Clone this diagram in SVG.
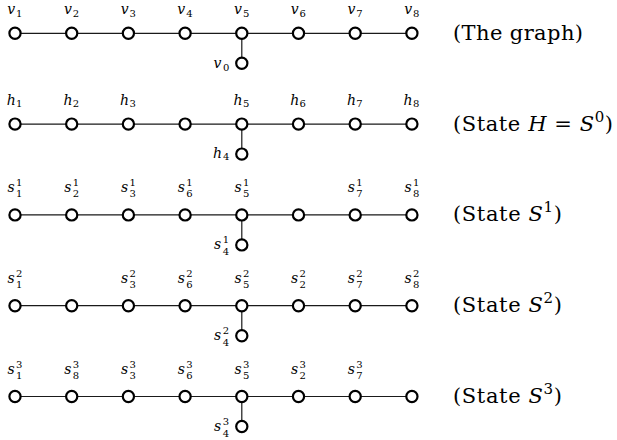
<svg xmlns="http://www.w3.org/2000/svg" width="617" height="440" viewBox="0 0 617 440">
<style>
.n{fill:#fff;stroke:#000;stroke-width:2.2}
.e{stroke:#1a1a1a;stroke-width:1.2;fill:none}
.i{font-family:'DejaVu Serif','Noto Serif','Liberation Serif',Tinos,FreeSerif,serif;font-style:italic;font-size:14px;text-anchor:middle;fill:#000}
.d{font-family:'DejaVu Serif','Noto Serif','Liberation Serif',Tinos,FreeSerif,serif;font-size:10px;text-anchor:middle;fill:#000}
.t{font-family:'DejaVu Serif','Noto Serif','Liberation Serif',Tinos,FreeSerif,serif;font-size:21px;fill:#000}
</style>
<rect width="617" height="440" fill="#fff"/>
<g id="connectors">
<path class="e" d="M15 33.3H411.9M241.8 33.3V63.3"/>
<path class="e" d="M15 124.1H411.9M241.8 124.1V154.1"/>
<path class="e" d="M15 214.9H411.9M241.8 214.9V244.9"/>
<path class="e" d="M15 305.7H411.9M241.8 305.7V335.7"/>
<path class="e" d="M15 396.5H411.9M241.8 396.5V426.5"/>
</g>
<!-- Row 0: the graph -->
<g id="v1"><circle class="n" cx="15" cy="33.3" r="5.6"/><text class="i" x="11.2" y="14.3">v</text><text class="d" x="19.3" y="16.8">1</text></g>
<g id="v2"><circle class="n" cx="71.7" cy="33.3" r="5.6"/><text class="i" x="67.9" y="14.3">v</text><text class="d" x="76" y="16.8">2</text></g>
<g id="v3"><circle class="n" cx="128.4" cy="33.3" r="5.6"/><text class="i" x="124.6" y="14.3">v</text><text class="d" x="132.7" y="16.8">3</text></g>
<g id="v4"><circle class="n" cx="185.1" cy="33.3" r="5.6"/><text class="i" x="181.3" y="14.3">v</text><text class="d" x="189.4" y="16.8">4</text></g>
<g id="v5"><circle class="n" cx="241.8" cy="33.3" r="5.6"/><text class="i" x="238" y="14.3">v</text><text class="d" x="246.1" y="16.8">5</text></g>
<g id="v6"><circle class="n" cx="298.5" cy="33.3" r="5.6"/><text class="i" x="294.7" y="14.3">v</text><text class="d" x="302.8" y="16.8">6</text></g>
<g id="v7"><circle class="n" cx="355.2" cy="33.3" r="5.6"/><text class="i" x="351.4" y="14.3">v</text><text class="d" x="359.5" y="16.8">7</text></g>
<g id="v8"><circle class="n" cx="411.9" cy="33.3" r="5.6"/><text class="i" x="408.1" y="14.3">v</text><text class="d" x="416.2" y="16.8">8</text></g>
<g id="v0"><circle class="n" cx="241.8" cy="63.3" r="5.6"/><text class="i" x="217.5" y="68.3">v</text><text class="d" x="226.3" y="70.8">0</text></g>
<text class="t" x="453" y="39.8" textLength="130" lengthAdjust="spacing">(The graph)</text>
<!-- Row 1: state H -->
<g id="h1"><circle class="n" cx="15" cy="124.1" r="5.6"/><text class="i" x="11.2" y="105.1">h</text><text class="d" x="19.3" y="107.3">1</text></g>
<g id="h2"><circle class="n" cx="71.7" cy="124.1" r="5.6"/><text class="i" x="67.9" y="105.1">h</text><text class="d" x="76" y="107.3">2</text></g>
<g id="h3"><circle class="n" cx="128.4" cy="124.1" r="5.6"/><text class="i" x="124.6" y="105.1">h</text><text class="d" x="132.7" y="107.3">3</text></g>
<g id="h-blank"><circle class="n" cx="185.1" cy="124.1" r="5.6"/></g>
<g id="h5"><circle class="n" cx="241.8" cy="124.1" r="5.6"/><text class="i" x="238" y="105.1">h</text><text class="d" x="246.1" y="107.3">5</text></g>
<g id="h6"><circle class="n" cx="298.5" cy="124.1" r="5.6"/><text class="i" x="294.7" y="105.1">h</text><text class="d" x="302.8" y="107.3">6</text></g>
<g id="h7"><circle class="n" cx="355.2" cy="124.1" r="5.6"/><text class="i" x="351.4" y="105.1">h</text><text class="d" x="359.5" y="107.3">7</text></g>
<g id="h8"><circle class="n" cx="411.9" cy="124.1" r="5.6"/><text class="i" x="408.1" y="105.1">h</text><text class="d" x="416.2" y="107.3">8</text></g>
<g id="h4"><circle class="n" cx="241.8" cy="154.1" r="5.6"/><text class="i" x="217.5" y="157.8">h</text><text class="d" x="226.3" y="160">4</text></g>
<text class="t" x="453" y="130.6" textLength="160" lengthAdjust="spacing">(State <tspan font-style="italic">H</tspan> = <tspan font-style="italic">S</tspan><tspan font-size="15" dy="-9">0</tspan><tspan dy="9">)</tspan></text>
<!-- Row 2: state S1 -->
<g id="s1-1"><circle class="n" cx="15" cy="214.9" r="5.6"/><text class="i" x="11.2" y="191.9">s</text><text class="d" x="19.3" y="185.9">1</text><text class="d" x="19.3" y="197.4">1</text></g>
<g id="s1-2"><circle class="n" cx="71.7" cy="214.9" r="5.6"/><text class="i" x="67.9" y="191.9">s</text><text class="d" x="76" y="185.9">1</text><text class="d" x="76" y="197.4">2</text></g>
<g id="s1-3"><circle class="n" cx="128.4" cy="214.9" r="5.6"/><text class="i" x="124.6" y="191.9">s</text><text class="d" x="132.7" y="185.9">1</text><text class="d" x="132.7" y="197.4">3</text></g>
<g id="s1-6"><circle class="n" cx="185.1" cy="214.9" r="5.6"/><text class="i" x="181.3" y="191.9">s</text><text class="d" x="189.4" y="185.9">1</text><text class="d" x="189.4" y="197.4">6</text></g>
<g id="s1-5"><circle class="n" cx="241.8" cy="214.9" r="5.6"/><text class="i" x="238" y="191.9">s</text><text class="d" x="246.1" y="185.9">1</text><text class="d" x="246.1" y="197.4">5</text></g>
<g id="s1-blank"><circle class="n" cx="298.5" cy="214.9" r="5.6"/></g>
<g id="s1-7"><circle class="n" cx="355.2" cy="214.9" r="5.6"/><text class="i" x="351.4" y="191.9">s</text><text class="d" x="359.5" y="185.9">1</text><text class="d" x="359.5" y="197.4">7</text></g>
<g id="s1-8"><circle class="n" cx="411.9" cy="214.9" r="5.6"/><text class="i" x="408.1" y="191.9">s</text><text class="d" x="416.2" y="185.9">1</text><text class="d" x="416.2" y="197.4">8</text></g>
<g id="s1-4"><circle class="n" cx="241.8" cy="244.9" r="5.6"/><text class="i" x="217.5" y="248.9">s</text><text class="d" x="226" y="243.4">1</text><text class="d" x="226" y="254.9">4</text></g>
<text class="t" x="453" y="221.4" textLength="109" lengthAdjust="spacing">(State <tspan font-style="italic">S</tspan><tspan font-size="15" dy="-9">1</tspan><tspan dy="9">)</tspan></text>
<!-- Row 3: state S2 -->
<g id="s2-1"><circle class="n" cx="15" cy="305.7" r="5.6"/><text class="i" x="11.2" y="282.7">s</text><text class="d" x="19.3" y="276.7">2</text><text class="d" x="19.3" y="288.2">1</text></g>
<g id="s2-blank"><circle class="n" cx="71.7" cy="305.7" r="5.6"/></g>
<g id="s2-3"><circle class="n" cx="128.4" cy="305.7" r="5.6"/><text class="i" x="124.6" y="282.7">s</text><text class="d" x="132.7" y="276.7">2</text><text class="d" x="132.7" y="288.2">3</text></g>
<g id="s2-6"><circle class="n" cx="185.1" cy="305.7" r="5.6"/><text class="i" x="181.3" y="282.7">s</text><text class="d" x="189.4" y="276.7">2</text><text class="d" x="189.4" y="288.2">6</text></g>
<g id="s2-5"><circle class="n" cx="241.8" cy="305.7" r="5.6"/><text class="i" x="238" y="282.7">s</text><text class="d" x="246.1" y="276.7">2</text><text class="d" x="246.1" y="288.2">5</text></g>
<g id="s2-2"><circle class="n" cx="298.5" cy="305.7" r="5.6"/><text class="i" x="294.7" y="282.7">s</text><text class="d" x="302.8" y="276.7">2</text><text class="d" x="302.8" y="288.2">2</text></g>
<g id="s2-7"><circle class="n" cx="355.2" cy="305.7" r="5.6"/><text class="i" x="351.4" y="282.7">s</text><text class="d" x="359.5" y="276.7">2</text><text class="d" x="359.5" y="288.2">7</text></g>
<g id="s2-8"><circle class="n" cx="411.9" cy="305.7" r="5.6"/><text class="i" x="408.1" y="282.7">s</text><text class="d" x="416.2" y="276.7">2</text><text class="d" x="416.2" y="288.2">8</text></g>
<g id="s2-4"><circle class="n" cx="241.8" cy="335.7" r="5.6"/><text class="i" x="217.5" y="339.7">s</text><text class="d" x="226" y="334.2">2</text><text class="d" x="226" y="345.7">4</text></g>
<text class="t" x="453" y="312.2" textLength="109" lengthAdjust="spacing">(State <tspan font-style="italic">S</tspan><tspan font-size="15" dy="-9">2</tspan><tspan dy="9">)</tspan></text>
<!-- Row 4: state S3 -->
<g id="s3-1"><circle class="n" cx="15" cy="396.5" r="5.6"/><text class="i" x="11.2" y="373.5">s</text><text class="d" x="19.3" y="367.5">3</text><text class="d" x="19.3" y="379">1</text></g>
<g id="s3-8"><circle class="n" cx="71.7" cy="396.5" r="5.6"/><text class="i" x="67.9" y="373.5">s</text><text class="d" x="76" y="367.5">3</text><text class="d" x="76" y="379">8</text></g>
<g id="s3-3"><circle class="n" cx="128.4" cy="396.5" r="5.6"/><text class="i" x="124.6" y="373.5">s</text><text class="d" x="132.7" y="367.5">3</text><text class="d" x="132.7" y="379">3</text></g>
<g id="s3-6"><circle class="n" cx="185.1" cy="396.5" r="5.6"/><text class="i" x="181.3" y="373.5">s</text><text class="d" x="189.4" y="367.5">3</text><text class="d" x="189.4" y="379">6</text></g>
<g id="s3-5"><circle class="n" cx="241.8" cy="396.5" r="5.6"/><text class="i" x="238" y="373.5">s</text><text class="d" x="246.1" y="367.5">3</text><text class="d" x="246.1" y="379">5</text></g>
<g id="s3-2"><circle class="n" cx="298.5" cy="396.5" r="5.6"/><text class="i" x="294.7" y="373.5">s</text><text class="d" x="302.8" y="367.5">3</text><text class="d" x="302.8" y="379">2</text></g>
<g id="s3-7"><circle class="n" cx="355.2" cy="396.5" r="5.6"/><text class="i" x="351.4" y="373.5">s</text><text class="d" x="359.5" y="367.5">3</text><text class="d" x="359.5" y="379">7</text></g>
<g id="s3-blank"><circle class="n" cx="411.9" cy="396.5" r="5.6"/></g>
<g id="s3-4"><circle class="n" cx="241.8" cy="426.5" r="5.6"/><text class="i" x="217.5" y="430.5">s</text><text class="d" x="226" y="425">3</text><text class="d" x="226" y="436.5">4</text></g>
<text class="t" x="453" y="403" textLength="109" lengthAdjust="spacing">(State <tspan font-style="italic">S</tspan><tspan font-size="15" dy="-9">3</tspan><tspan dy="9">)</tspan></text>
</svg>
